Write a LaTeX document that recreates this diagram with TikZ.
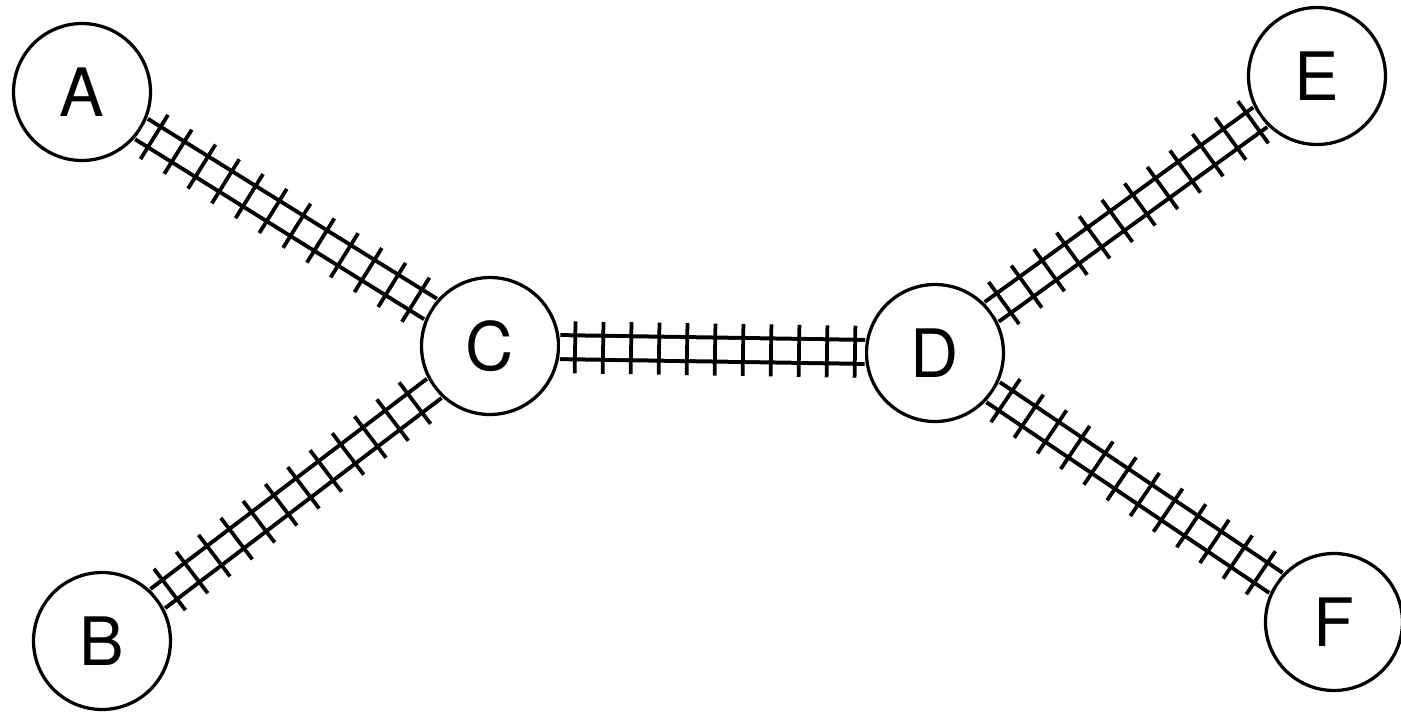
\documentclass[tikz,border=0pt]{standalone}
\usepackage{fontspec}
\setmainfont{TeX Gyre Heros}
\usetikzlibrary{decorations.markings}
\tikzset{
  station/.style={circle, draw, line width=0.065cm, minimum size=2.74cm, inner sep=0pt,
    font=\fontsize{38}{40}\selectfont},
  track/.style={line width=0.08cm, double, double distance=0.40cm,
    postaction={decorate, decoration={markings,
      mark=between positions 0.3cm and 1 step 0.56cm with {\draw[line width=0.075cm] (0,-0.52cm) -- (0,0.52cm);}}}}
}
\begin{document}
\begin{tikzpicture}[x=0.02cm, y=-0.02cm]
\useasboundingbox (0,0) rectangle (1401,714);
\node[station] (A) at (82,92) {A};
\node[station] (B) at (102,641) {B};
\node[station] (C) at (490,346) {C};
\node[station] (D) at (935,353) {D};
\node[station] (E) at (1317,76) {E};
\node[station] (F) at (1334,622) {F};
\draw[track] (A) -- (C);
\draw[track] (B) -- (C);
\draw[track] (C) -- (D);
\draw[track] (D) -- (E);
\draw[track] (D) -- (F);
\end{tikzpicture}
\end{document}
